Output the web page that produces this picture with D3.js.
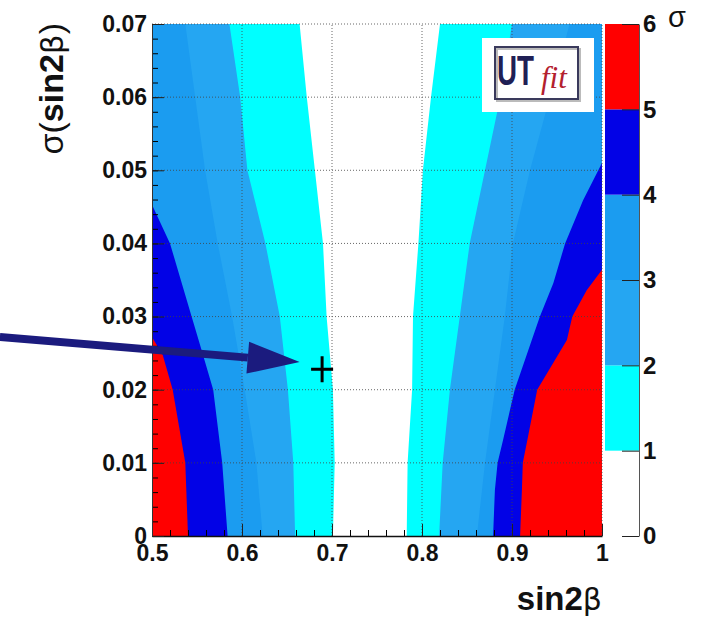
<!DOCTYPE html>
<html>
<head>
<meta charset="utf-8">
<script src="https://cdn.jsdelivr.net/npm/d3@7"></script>
<style>
  body { margin: 0; background: #fff; }
  text { font-family: "Liberation Sans", Arial, sans-serif; }
</style>
</head>
<body>
<div class="chart"></div>
<script>
// tick values
const xTicks = [0.5, 0.6, 0.7, 0.8, 0.9, 1]
const xTickLabels = ['0.5', '0.6', '0.7', '0.8', '0.9', '1']
const yTicks = [0, 0.01, 0.02, 0.03, 0.04, 0.05, 0.06, 0.07]
const yTickLabels = ['0', '0.01', '0.02', '0.03', '0.04', '0.05', '0.06', '0.07']
const sigmaLevels = [0, 1, 2, 3, 4, 5, 6]
const bandColors = ['#ffffff', '#00ffff', '#25a6f2', '#1b9cf0', '#0202e6', '#ff0000']

// contour boundaries, [sin2beta, sigma(sin2beta)] — left side (low sin2beta)
const left1 = [[0.701, 0], [0.703, 0.01], [0.701, 0.02], [0.694, 0.03], [0.690, 0.04], [0.681, 0.05], [0.672, 0.06], [0.664, 0.07]]
const left2 = [[0.659, 0], [0.657, 0.01], [0.651, 0.02], [0.642, 0.03], [0.626, 0.04], [0.606, 0.05], [0.598, 0.06], [0.586, 0.07]]
const left3 = [[0.623, 0], [0.616, 0.01], [0.603, 0.02], [0.589, 0.03], [0.573, 0.04], [0.559, 0.05], [0.548, 0.06], [0.537, 0.07]]
const left4 = [[0.584, 0], [0.578, 0.01], [0.568, 0.02], [0.553, 0.0263], [0.544, 0.03], [0.520, 0.04], [0.5, 0.0453]]
const left5 = [[0.540, 0], [0.537, 0.01], [0.523, 0.02], [0.512, 0.0247], [0.5, 0.0272]]

// right side (high sin2beta)
const right1 = [[0.783, 0], [0.784, 0.01], [0.789, 0.02], [0.790, 0.03], [0.796, 0.04], [0.801, 0.05], [0.810, 0.06], [0.820, 0.07]]
const right2 = [[0.819, 0], [0.823, 0.01], [0.831, 0.02], [0.842, 0.03], [0.853, 0.04], [0.870, 0.05], [0.887, 0.06], [0.900, 0.07]]
const right3 = [[0.861, 0], [0.870, 0.01], [0.881, 0.02], [0.892, 0.03], [0.901, 0.04], [0.920, 0.05], [0.942, 0.06], [0.964, 0.07]]
const right4 = [[0.879, 0], [0.881, 0.0063], [0.884, 0.01], [0.890, 0.0131], [0.903, 0.02], [0.922, 0.0268], [0.931, 0.03], [0.946, 0.0346], [0.959, 0.04], [0.979, 0.0459], [1, 0.051]]
const right5 = [[0.909, 0], [0.911, 0.0063], [0.912, 0.01], [0.917, 0.0131], [0.928, 0.02], [0.961, 0.0268], [0.967, 0.03], [0.983, 0.0336], [1, 0.0364]]

// annotation: best value marker and arrow
const marker = [0.689, 0.0228]
const arrowFrom = [0.331, 0.0272]
const arrowTo = [0.664, 0.0238]

const width = 708, height = 622

const svg = d3.select('.chart')
    .append('svg')
    .attr('width', width)
    .attr('height', height)

const x = d3.scaleLinear().domain([0.5, 1]).range([152, 602])
const y = d3.scaleLinear().domain([0, 0.07]).range([536, 24])
const z = d3.scaleLinear().domain([0, 6]).range([536, 24])

// background = 0-1 sigma band
svg.append('rect')
    .attr('x', x(0.5)).attr('y', y(0.07))
    .attr('width', x(1) - x(0.5)).attr('height', y(0) - y(0.07))
    .attr('fill', bandColors[0])

const leftArea = d3.area().y(d => y(d[1])).x0(x(0.5)).x1(d => x(d[0]))
const rightArea = d3.area().y(d => y(d[1])).x0(x(1)).x1(d => x(d[0]))

const lefts = [left1, left2, left3, left4, left5]
const rights = [right1, right2, right3, right4, right5]

svg.selectAll('path.left')
    .data(lefts)
    .enter()
    .append('path')
    .attr('class', 'left')
    .attr('d', leftArea)
    .attr('fill', (d, i) => bandColors[i + 1])

svg.selectAll('path.right')
    .data(rights)
    .enter()
    .append('path')
    .attr('class', 'right')
    .attr('d', rightArea)
    .attr('fill', (d, i) => bandColors[i + 1])

// dotted grid
const grid = svg.append('g')
    .attr('stroke', '#444')
    .attr('stroke-width', 1)
    .attr('stroke-dasharray', '1,2')
    .attr('opacity', 0.8)

grid.selectAll('line.gx')
    .data(xTicks.slice(1))
    .enter()
    .append('line')
    .attr('x1', d => x(d)).attr('x2', d => x(d))
    .attr('y1', y(0)).attr('y2', y(0.07))

grid.selectAll('line.gy')
    .data(yTicks.slice(1))
    .enter()
    .append('line')
    .attr('y1', d => y(d)).attr('y2', d => y(d))
    .attr('x1', x(0.5)).attr('x2', x(1))

// minor ticks
const xMinor = d3.range(0.5, 1.0001, 0.02)
const yMinor = d3.range(0, 0.0701, 0.002)

svg.append('g')
    .attr('transform', `translate(0,${y(0)})`)
    .call(d3.axisBottom(x).tickValues(xMinor).tickSize(-6).tickSizeOuter(0).tickFormat(''))
    .call(g => g.select('.domain').remove())

svg.append('g')
    .attr('transform', `translate(${x(0.5)},0)`)
    .call(d3.axisLeft(y).tickValues(yMinor).tickSize(-6).tickSizeOuter(0).tickFormat(''))
    .call(g => g.select('.domain').remove())

// major axes
const xAxis = svg.append('g')
    .attr('transform', `translate(0,${y(0)})`)
    .call(d3.axisBottom(x).tickValues(xTicks).tickSize(-12).tickSizeOuter(0).tickPadding(9)
        .tickFormat((d, i) => xTickLabels[i]))

const yAxis = svg.append('g')
    .attr('transform', `translate(${x(0.5)},0)`)
    .call(d3.axisLeft(y).tickValues(yTicks).tickSize(-12).tickSizeOuter(0).tickPadding(5)
        .tickFormat((d, i) => yTickLabels[i]))

;[xAxis, yAxis].forEach(g => {
    g.selectAll('text')
        .attr('font-size', 23)
        .attr('font-weight', 'bold')
        .attr('fill', '#111')
        .style('font-family', '"Liberation Sans", Arial, sans-serif')
    g.selectAll('line').attr('stroke', '#222')
    g.select('.domain').attr('stroke', '#111').attr('stroke-width', 1.5)
})
yAxis.select('.domain').attr('stroke', '#333').attr('stroke-width', 1)

// colour bar
svg.selectAll('rect.band')
    .data(sigmaLevels.slice(0, -1))
    .enter()
    .append('rect')
    .attr('class', 'band')
    .attr('x', 605)
    .attr('width', 34)
    .attr('y', d => z(d + 1))
    .attr('height', d => z(d) - z(d + 1))
    .attr('fill', (d, i) => bandColors[i])

const zAxis = svg.append('g')
    .attr('transform', 'translate(639,0)')
    .call(d3.axisRight(z).tickValues(sigmaLevels).tickSize(-17).tickSizeOuter(0).tickPadding(4)
        .tickFormat(d3.format('d')))
zAxis.selectAll('text')
    .attr('font-size', 24)
    .attr('font-weight', 'bold')
    .attr('fill', '#111')
    .style('font-family', '"Liberation Sans", Arial, sans-serif')
zAxis.selectAll('line').attr('stroke', '#222')
zAxis.select('.domain').attr('stroke', '#555')

svg.append('text')
    .attr('x', 668).attr('y', 27)
    .attr('font-size', 29)
    .attr('fill', '#111')
    .text('σ')

// axis titles
svg.append('text')
    .attr('x', 602).attr('y', 610)
    .attr('text-anchor', 'end')
    .attr('font-size', 33)
    .attr('fill', '#111')
    .call(t => {
        t.append('tspan').attr('font-weight', 'bold').text('sin2')
        t.append('tspan').style('font-family', '"DejaVu Sans", sans-serif').attr('font-size', 30).text('β')
    })

svg.append('text')
    .attr('transform', 'translate(63,23) rotate(-90)')
    .attr('text-anchor', 'end')
    .attr('font-size', 34)
    .attr('fill', '#111')
    .call(t => {
        t.append('tspan').text('σ(')
        t.append('tspan').attr('font-weight', 'bold').text('sin2')
        t.append('tspan').style('font-family', '"DejaVu Sans", sans-serif').attr('font-size', 31).text('β')
        t.append('tspan').text(')')
    })

// UTfit logo
const logo = svg.append('g')
logo.append('rect')
    .attr('x', 482).attr('y', 38).attr('width', 112).attr('height', 74)
    .attr('fill', '#fff')
logo.append('rect')
    .attr('x', 497).attr('y', 49).attr('width', 83).attr('height', 52)
    .attr('fill', 'none').attr('stroke', '#bbb').attr('stroke-width', 2)
logo.append('rect')
    .attr('x', 495).attr('y', 47).attr('width', 83).attr('height', 52)
    .attr('fill', 'none').attr('stroke', '#3a3a5c').attr('stroke-width', 2)
logo.append('text')
    .attr('x', 497).attr('y', 85)
    .attr('font-size', 42).attr('font-weight', 'bold')
    .attr('fill', '#1f2055')
    .attr('textLength', 37).attr('lengthAdjust', 'spacingAndGlyphs')
    .text('UT')
logo.append('text')
    .attr('x', 541).attr('y', 88)
    .attr('font-size', 31).attr('font-style', 'italic')
    .style('font-family', '"Liberation Serif", "DejaVu Serif", serif')
    .attr('fill', '#b3202e')
    .text('fit')

// arrow
const navy = '#1b1b7e'
const ax0 = x(arrowFrom[0]), ay0 = y(arrowFrom[1])
const ax1 = x(arrowTo[0]), ay1 = y(arrowTo[1])
const ang = Math.atan2(ay1 - ay0, ax1 - ax0)
const headLen = 52, headHalf = 16
const bx = ax1 - headLen * Math.cos(ang), by = ay1 - headLen * Math.sin(ang)
svg.append('line')
    .attr('x1', ax0).attr('y1', ay0)
    .attr('x2', bx).attr('y2', by)
    .attr('stroke', navy).attr('stroke-width', 8)
svg.append('path')
    .attr('d', d3.line()([
        [ax1, ay1],
        [bx - headHalf * Math.sin(ang), by + headHalf * Math.cos(ang)],
        [bx + headHalf * Math.sin(ang), by - headHalf * Math.cos(ang)]
    ]))
    .attr('fill', navy)

// best fit cross
const cx = x(marker[0]), cy = y(marker[1])
svg.append('path')
    .attr('d', `M${cx - 11},${cy}H${cx + 11}M${cx},${cy - 13}V${cy + 13}`)
    .attr('stroke', '#000').attr('stroke-width', 3)
</script>
</body>
</html>
